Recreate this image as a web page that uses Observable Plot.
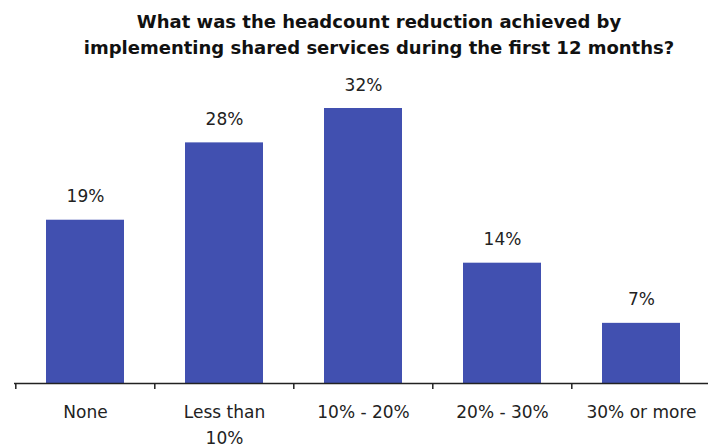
<!DOCTYPE html>
<html><head><meta charset="utf-8">
<script src="https://cdn.jsdelivr.net/npm/d3@7"></script>
<script src="https://cdn.jsdelivr.net/npm/@observablehq/plot@0.6"></script>
<style>
body{margin:0;background:#fff;}
#title{box-sizing:border-box;height:62px;padding:9px 0 0 50px;font:bold 18px/26px "DejaVu Sans";color:#111;text-align:center;white-space:nowrap;}
</style></head><body>
<div id="title">What was the headcount reduction achieved by<br>implementing shared services during the first 12 months?</div>
<div id="chart"></div>
<script>
const categories = ["None", "Less than\n10%", "10% - 20%", "20% - 30%", "30% or more"];
const values = [19, 28, 32, 14, 7];
const valueLabels = ["19%", "28%", "32%", "14%", "7%"];

const data = categories.map((c, i) => ({category: c, value: values[i], label: valueLabels[i]}));
const W = 708, H = 386, x0 = 14, x1 = 711;
const step = (x1 - x0) / categories.length;

const chart = Plot.plot({
  width: W, height: H,
  marginTop: 46, marginBottom: 65, marginLeft: x0, marginRight: 0,
  style: {fontFamily: "DejaVu Sans", fontSize: "17px", color: "#222", background: "#fff"},
  x: {domain: categories, range: [x0, x1], paddingInner: 0.44, paddingOuter: 0.22, label: null},
  y: {domain: [0, 32], axis: null},
  marks: [
    Plot.barY(data, {x: "category", y: "value", fill: "#4150B0"}),
    Plot.text(data, {x: "category", y: "value", text: "label", lineAnchor: "bottom", dy: -18, fontSize: 17, fill: "#222"}),
    Plot.axisX({tickSize: 6, tickFormat: () => "", dx: -step / 2, stroke: "#222", strokeWidth: 1.5}),
    Plot.axisX({tickSize: 0, tickPadding: 16, fontSize: 17, lineHeight: 1.52, fill: "#222"}),
    Plot.ruleY([0], {stroke: "#222", strokeWidth: 1.6})
  ]
});
document.getElementById("chart").appendChild(chart);
</script>
</body></html>
